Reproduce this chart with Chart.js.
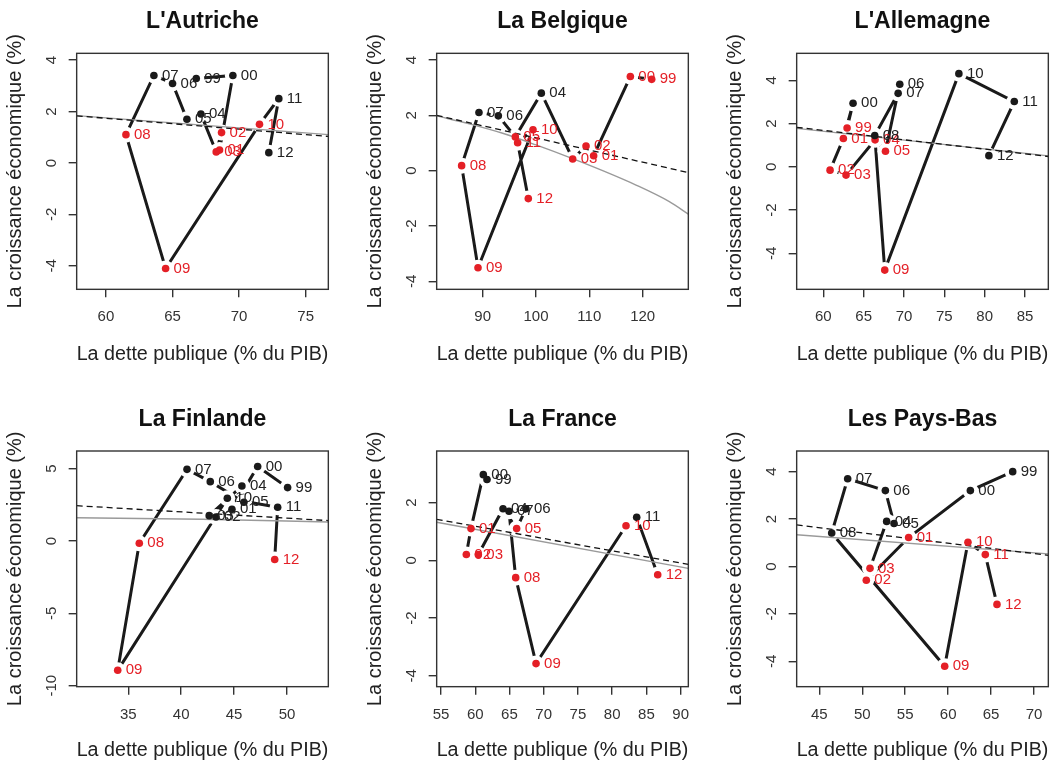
<!DOCTYPE html>
<html>
<head>
<meta charset="utf-8">
<script src="https://cdn.jsdelivr.net/npm/chart.js@4.4.1/dist/chart.umd.min.js"></script>
<style>
  html, body { margin: 0; padding: 0; background: #fff; overflow: hidden; width: 1058px; height: 762px; }
  canvas { position: absolute; }
</style>
</head>
<body>
<canvas id="aut"></canvas>
<canvas id="bel"></canvas>
<canvas id="deu"></canvas>
<canvas id="fin"></canvas>
<canvas id="fra"></canvas>
<canvas id="nld"></canvas>
<script>
// years shown next to each point (1999 .. 2012)
const years = ['99', '00', '01', '02', '03', '04', '05', '06', '07', '08', '09', '10', '11', '12'];

// L'Autriche
const autDebt = [66.78, 69.53, 68.53, 68.68, 68.28, 67.13, 66.08, 65.0, 63.6, 61.5, 64.48, 71.53, 72.98, 72.23];
const autGrowth = [3.28, 3.40, 0.50, 1.18, 0.43, 1.90, 1.70, 3.09, 3.40, 1.10, -4.10, 1.50, 2.50, 0.40];
const autRed = ['01', '02', '03', '08', '09', '10'];
const autXTicks = [60, 65, 70, 75];
const autYTicks = [-4, -2, 0, 2, 4];
const autXRange = [57.8, 76.7];
const autYRange = [-4.91, 4.26];
const autLinX = [57.8, 76.7], autLinY = [1.83, 1.03];
const autLoX = [57.8, 76.7], autLoY = [1.84, 1.10];

// La Belgique
const belDebt = [121.69, 117.69, 110.81, 109.38, 106.88, 101.0, 96.13, 92.94, 89.31, 86.06, 89.13, 99.44, 96.56, 98.56];
const belGrowth = [3.30, 3.40, 0.54, 0.89, 0.42, 2.80, 1.22, 1.98, 2.10, 0.18, -3.51, 1.48, 1.01, -1.01];
const belRed = ['99', '00', '01', '02', '03', '05', '08', '09', '10', '11', '12'];
const belXTicks = [90, 100, 110, 120];
const belYTicks = [-4, -2, 0, 2, 4];
const belXRange = [81.38, 128.56];
const belYRange = [-4.29, 4.24];
const belLinX = [81.38, 128.56], belLinY = [2.0, -0.07];
const belLoX = [81.38, 87.5, 93.75, 100, 106.25, 112.5, 118.75, 125, 128.56];
const belLoY = [1.98, 1.69, 1.35, 0.93, 0.48, 0.0, -0.52, -1.12, -1.57];

// L'Allemagne
const deuDebt = [62.94, 63.68, 62.48, 60.83, 62.81, 66.41, 67.70, 69.47, 69.27, 66.37, 67.61, 76.80, 83.67, 80.52];
const deuGrowth = [1.80, 2.94, 1.31, -0.15, -0.38, 1.25, 0.72, 3.82, 3.40, 1.45, -4.77, 4.31, 3.02, 0.52];
const deuRed = ['99', '01', '02', '03', '04', '05', '09'];
const deuXTicks = [60, 65, 70, 75, 80, 85];
const deuYTicks = [-4, -2, 0, 2, 4];
const deuXRange = [56.69, 87.89];
const deuYRange = [-5.66, 5.25];
const deuLinX = [56.69, 87.89], deuLinY = [1.83, 0.48];
const deuLoX = [56.69, 87.89], deuLoY = [1.78, 0.51];

// La Finlande
const finDebt = [50.06, 47.23, 44.80, 43.29, 42.65, 45.74, 45.93, 42.75, 40.55, 36.04, 34.0, 44.36, 49.12, 48.84];
const finGrowth = [3.69, 5.15, 2.19, 1.66, 1.75, 3.80, 2.68, 4.10, 4.95, -0.16, -8.94, 2.95, 2.33, -1.28];
const finRed = ['08', '09', '12'];
const finXTicks = [35, 40, 45, 50];
const finYTicks = [-10, -5, 0, 5];
const finXRange = [30.12, 53.91];
const finYRange = [-10.07, 6.22];
const finLinX = [30.12, 53.91], finLinY = [2.44, 1.41];
const finLoX = [30.12, 42, 53.91], finLoY = [1.61, 1.50, 1.31];

// La France
const fraDebt = [61.72, 61.18, 59.38, 58.70, 60.45, 64.06, 66.05, 67.41, 64.93, 65.91, 68.88, 82.02, 83.58, 86.65];
const fraGrowth = [2.80, 2.97, 1.10, 0.20, 0.20, 1.79, 1.10, 1.79, 1.70, -0.60, -3.58, 1.20, 1.49, -0.50];
const fraRed = ['01', '02', '03', '05', '08', '09', '10', '12'];
const fraXTicks = [55, 60, 65, 70, 75, 80, 85, 90];
const fraYTicks = [-4, -2, 0, 2];
const fraXRange = [54.37, 91.12];
const fraYRange = [-4.38, 3.79];
const fraLinX = [54.37, 91.12], fraLinY = [1.42, -0.14];
const fraLoX = [54.37, 91.12], fraLoY = [1.32, -0.28];

// Les Pays-Bas
const nldDebt = [67.52, 62.59, 55.40, 50.47, 50.90, 52.84, 53.70, 52.69, 48.30, 46.44, 59.60, 62.31, 64.33, 65.69];
const nldGrowth = [4.0, 3.20, 1.22, -0.58, -0.08, 1.90, 1.81, 3.20, 3.70, 1.41, -4.21, 1.02, 0.50, -1.60];
const nldRed = ['01', '02', '03', '09', '10', '11', '12'];
const nldXTicks = [45, 50, 55, 60, 65, 70];
const nldYTicks = [-4, -2, 0, 2, 4];
const nldXRange = [42.36, 71.67];
const nldYRange = [-5.07, 4.87];
const nldLinX = [42.36, 71.67], nldLinY = [1.75, 0.47];
const nldLoX = [42.36, 71.67], nldLoY = [1.34, 0.53];

const FONT = '"Liberation Sans", Arial, Helvetica, sans-serif';
const RED = '#e41f26';
const DARK = '#1a1a1a';
Chart.defaults.font.family = FONT;
Chart.defaults.color = '#222';

// page geometry (pixels)
const COL_LEFT = [0, 360, 720];
const ROW_TOP = [0, 398];
const ROW_H = [380, 364];
const Y_AXIS_W = 76.67;
const PLOT_RIGHT = 328.33;
const PLOT_BOTTOM = [289.33, 288.67];
const TITLE_PAD = [{ top: 8, bottom: 17.73 }, { top: 7.7, bottom: 17.7 }];
const XTITLE_PAD = [13.5, 0];

// R-style box around the plot region
const frame = {
  id: 'frame',
  afterDraw(chart) {
    const { ctx, chartArea: a } = chart;
    ctx.save();
    ctx.strokeStyle = '#333';
    ctx.lineWidth = 1.4;
    ctx.strokeRect(a.left, a.top, a.right - a.left, a.bottom - a.top);
    ctx.restore();
  }
};

// year tags written to the right of each point
const yearTags = {
  id: 'yearTags',
  afterDatasetsDraw(chart) {
    const ctx = chart.ctx;
    chart.data.datasets.forEach((ds, i) => {
      if (!ds.tags) return;
      const meta = chart.getDatasetMeta(i);
      ctx.save();
      ctx.font = '15px ' + FONT;
      ctx.textBaseline = 'middle';
      ctx.textAlign = 'left';
      meta.data.forEach((pt, j) => {
        ctx.fillStyle = ds.tagColors[j];
        ctx.fillText(ds.tags[j], pt.x + 8, pt.y);
      });
      ctx.restore();
    });
  }
};

const measure = document.createElement('canvas').getContext('2d');
measure.font = '15px ' + FONT;

function panel(p) {
  const canvas = document.getElementById(p.id);
  const left = COL_LEFT[p.col], top = ROW_TOP[p.row];
  const w = Math.min(350, 1058 - left), h = ROW_H[p.row];
  canvas.width = w; canvas.height = h;
  canvas.style.left = left + 'px'; canvas.style.top = top + 'px';
  canvas.style.width = w + 'px'; canvas.style.height = h + 'px';

  const pts = years.map((yr, i) => ({ x: p.debt[i], y: p.growth[i] }));
  const colors = years.map(yr => p.red.includes(yr) ? RED : DARK);
  const tagColors = years.map(yr => p.red.includes(yr) ? RED : '#222');
  const widest = Math.max(...p.yTicks.map(v => measure.measureText(String(v)).width));
  const tickGrid = { display: true, drawOnChartArea: false, drawTicks: true, tickLength: 8, color: '#333', lineWidth: 1.4 };

  new Chart(canvas, {
    type: 'scatter',
    data: {
      datasets: [
        { data: pts, showLine: true, borderColor: DARK, borderWidth: 3, borderCapStyle: 'round',
          pointRadius: 0, tension: 0, order: 4 },
        { data: pts, showLine: false, pointRadius: 8, backgroundColor: '#fff', pointBorderWidth: 0, order: 3 },
        { data: p.loX.map((x, i) => ({ x: x, y: p.loY[i] })), showLine: true, borderColor: '#9a9a9a',
          borderWidth: 1.4, pointRadius: 0, cubicInterpolationMode: 'monotone', order: 2.5 },
        { data: p.linX.map((x, i) => ({ x: x, y: p.linY[i] })), showLine: true, borderColor: '#111',
          borderWidth: 1.3, borderDash: [6, 4], pointRadius: 0, order: 2 },
        { data: pts, showLine: false, pointRadius: 3.8, backgroundColor: colors, pointBorderWidth: 0,
          tags: years, tagColors: tagColors, order: 1 }
      ]
    },
    options: {
      responsive: false,
      animation: false,
      events: [],
      layout: { padding: { left: 0, right: w - PLOT_RIGHT, top: 0, bottom: 0 } },
      plugins: {
        legend: { display: false },
        tooltip: { enabled: false },
        title: { display: true, text: p.title, fullSize: false, color: '#111',
                 font: { size: 23, weight: 'bold' }, padding: TITLE_PAD[p.row] }
      },
      scales: {
        x: {
          type: 'linear', min: p.xRange[0], max: p.xRange[1],
          afterBuildTicks: s => { s.ticks = p.xTicks.map(v => ({ value: v })); },
          afterFit: s => { s.height = h - PLOT_BOTTOM[p.row]; },
          grid: tickGrid,
          border: { display: false },
          ticks: { font: { size: 15 }, color: '#333', padding: 11, maxRotation: 0, autoSkip: false },
          title: { display: true, text: 'La dette publique (% du PIB)', font: { size: 20 }, color: '#222',
                   padding: { top: 0, bottom: XTITLE_PAD[p.row] } }
        },
        y: {
          type: 'linear', min: p.yRange[0], max: p.yRange[1],
          afterBuildTicks: s => { s.ticks = p.yTicks.map(v => ({ value: v })); },
          afterFit: s => { s.width = Y_AXIS_W; },
          grid: tickGrid,
          border: { display: false },
          ticks: { font: { size: 15 }, color: '#333', padding: 17 - widest / 2, minRotation: 90, maxRotation: 90,
                   crossAlign: 'center', autoSkip: false },
          title: { display: true, text: 'La croissance économique (%)', font: { size: 20 }, color: '#222',
                   padding: { top: 3.6, bottom: 0 } }
        }
      }
    },
    plugins: [frame, yearTags]
  });
}

panel({ id: 'aut', col: 0, row: 0, title: "L'Autriche", debt: autDebt, growth: autGrowth, red: autRed,
        xTicks: autXTicks, yTicks: autYTicks, xRange: autXRange, yRange: autYRange,
        linX: autLinX, linY: autLinY, loX: autLoX, loY: autLoY });
panel({ id: 'bel', col: 1, row: 0, title: 'La Belgique', debt: belDebt, growth: belGrowth, red: belRed,
        xTicks: belXTicks, yTicks: belYTicks, xRange: belXRange, yRange: belYRange,
        linX: belLinX, linY: belLinY, loX: belLoX, loY: belLoY });
panel({ id: 'deu', col: 2, row: 0, title: "L'Allemagne", debt: deuDebt, growth: deuGrowth, red: deuRed,
        xTicks: deuXTicks, yTicks: deuYTicks, xRange: deuXRange, yRange: deuYRange,
        linX: deuLinX, linY: deuLinY, loX: deuLoX, loY: deuLoY });
panel({ id: 'fin', col: 0, row: 1, title: 'La Finlande', debt: finDebt, growth: finGrowth, red: finRed,
        xTicks: finXTicks, yTicks: finYTicks, xRange: finXRange, yRange: finYRange,
        linX: finLinX, linY: finLinY, loX: finLoX, loY: finLoY });
panel({ id: 'fra', col: 1, row: 1, title: 'La France', debt: fraDebt, growth: fraGrowth, red: fraRed,
        xTicks: fraXTicks, yTicks: fraYTicks, xRange: fraXRange, yRange: fraYRange,
        linX: fraLinX, linY: fraLinY, loX: fraLoX, loY: fraLoY });
panel({ id: 'nld', col: 2, row: 1, title: 'Les Pays-Bas', debt: nldDebt, growth: nldGrowth, red: nldRed,
        xTicks: nldXTicks, yTicks: nldYTicks, xRange: nldXRange, yRange: nldYRange,
        linX: nldLinX, linY: nldLinY, loX: nldLoX, loY: nldLoY });
</script>
</body>
</html>
